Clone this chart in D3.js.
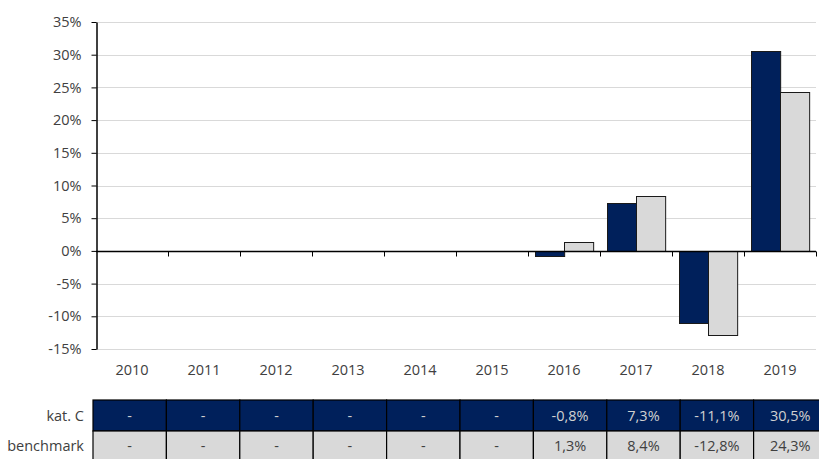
<!DOCTYPE html>
<html><head><meta charset="utf-8">
<script src="https://cdn.jsdelivr.net/npm/d3@7"></script>
<style>body{margin:0;background:#fff}svg{display:block}</style>
</head><body>
<script>
const years = ["2010","2011","2012","2013","2014","2015","2016","2017","2018","2019"];
const seriesNames = ["kat. C","benchmark"];
const katC = [null,null,null,null,null,null,-0.8,7.3,-11.1,30.5];
const benchmark = [null,null,null,null,null,null,1.3,8.4,-12.8,24.3];
const yTicks = [-15,-10,-5,0,5,10,15,20,25,30,35];
const colors = ["#00205B","#D9D9D9"];

const W=819,H=459;
const svg=d3.select("body").append("svg").attr("width",W).attr("height",H)
  .style("font-family","'Open Sans', sans-serif");
const x0=96,x1=816;
const x=d3.scaleBand().domain(years).range([x0,x1]).paddingInner(0.19).paddingOuter(0.095);
const xs=d3.scaleBand().domain(seriesNames).range([0,x.bandwidth()]);
const xc=d3.scaleBand().domain(years).range([x0,x1]);
const y=d3.scaleLinear().domain([-15,35]).range([349,22]);

// grid
svg.append("g").selectAll("line").data(yTicks.filter(d=>d!==0)).join("line")
  .attr("x1",x0).attr("x2",x1).attr("y1",d=>Math.round(y(d))+0.5).attr("y2",d=>Math.round(y(d))+0.5)
  .attr("stroke","#D9D9D9").attr("stroke-width",1);

// bars
const data=[katC,benchmark];
data.forEach((arr,si)=>{
  svg.append("g").selectAll("rect").data(years.map((yr,i)=>({yr,v:arr[i]})).filter(d=>d.v!==null)).join("rect")
    .attr("x",d=>Math.round(x(d.yr)+xs(seriesNames[si]))+0.5)
    .attr("y",d=>Math.round(y(Math.max(0,d.v)))+0.5)
    .attr("width",xs.bandwidth())
    .attr("height",d=>Math.abs(Math.round(y(d.v))-Math.round(y(0))))
    .attr("fill",colors[si]).attr("stroke","#1a1a1a").attr("stroke-width",1);
});

// y axis
const ya=svg.append("g").attr("transform",`translate(${x0+0.5},0)`)
  .call(d3.axisLeft(y).tickValues(yTicks).tickFormat(d=>d+"%").tickSize(5).tickSizeOuter(0));
ya.select(".domain").attr("stroke","#000").attr("stroke-width",1.5);
ya.selectAll(".tick line").attr("stroke","#000");
ya.selectAll(".tick text").attr("fill","#404040").style("font-size","14.5px")
  .style("font-family","'Open Sans', sans-serif").attr("x",-15);

// x zero axis
const y0=Math.round(y(0))+0.5;
svg.append("line").attr("x1",x0).attr("x2",x1).attr("y1",y0).attr("y2",y0).attr("stroke","#000").attr("stroke-width",1.5);
svg.append("g").selectAll("line").data(years).join("line")
  .attr("x1",d=>Math.round(xc(d)+xc.bandwidth())+0.5).attr("x2",d=>Math.round(xc(d)+xc.bandwidth())+0.5)
  .attr("y1",y0).attr("y2",y0+5).attr("stroke","#000");
svg.append("g").selectAll("text").data(years).join("text")
  .attr("x",d=>xc(d)+xc.bandwidth()/2).attr("y",375).attr("text-anchor","middle")
  .attr("fill","#404040").style("font-size","14.5px").text(d=>d);

// table
const tx0=93, tcw=73.4;
const rowY=[400,431], rowH=[31,30];
const rowFill=colors, rowText=["#D0D0D0","#404040"];
data.forEach((arr,si)=>{
  const g=svg.append("g");
  g.append("text").attr("x",84).attr("y",rowY[si]+rowH[si]/2+5).attr("text-anchor","end")
    .attr("fill","#404040").style("font-size","14.5px").text(seriesNames[si]);
  g.selectAll("rect").data(years).join("rect")
    .attr("x",(d,i)=>tx0+i*tcw).attr("y",rowY[si]).attr("width",tcw).attr("height",rowH[si])
    .attr("fill",rowFill[si]).attr("stroke","#000").attr("stroke-width",1.2);
  g.selectAll("text.v").data(arr).join("text").attr("class","v")
    .attr("x",(d,i)=>tx0+i*tcw+tcw/2).attr("y",rowY[si]+rowH[si]/2+5).attr("text-anchor","middle")
    .attr("fill",rowText[si]).style("font-size","14.5px")
    .text(d=>d===null?"-":d.toFixed(1).replace(".",",")+"%");
});
</script>
</body></html>
